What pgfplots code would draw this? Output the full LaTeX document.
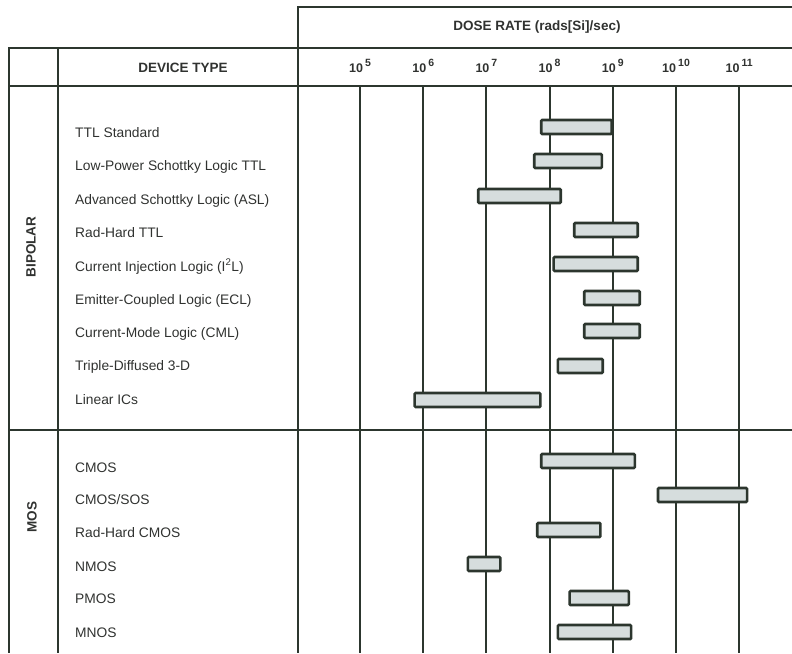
\documentclass[border=0pt]{standalone}
\usepackage{pgfplots}
\pgfplotsset{compat=1.18}
\usepackage{fontspec}
\setmainfont{Liberation Sans}
\definecolor{ink}{RGB}{44,54,46}
\definecolor{barfill}{RGB}{214,221,221}
\definecolor{txt}{RGB}{48,50,48}
\newcommand{\tp}[1]{10\,\raisebox{0.42em}{\fontsize{10.5}{11}\selectfont #1}}
\pgfplotsset{rbar/.style={draw=ink, fill=barfill, line width=2.6pt, rounded corners=1pt, mark=none}}
\begin{document}
\begin{tikzpicture}
\useasboundingbox (0,0) rectangle (792pt,-653pt);
\begin{scope}[x=1pt,y=-1pt]
\draw[ink,line width=2pt] (298,7) -- (792,7);
\draw[ink,line width=2pt] (298,6) -- (298,653);
\draw[ink,line width=2pt] (9,48) -- (792,48);
\draw[ink,line width=2pt] (9,86) -- (792,86);
\draw[ink,line width=2pt] (9,430) -- (792,430);
\draw[ink,line width=2pt] (9,47) -- (9,653);
\draw[ink,line width=2pt] (58,47) -- (58,653);
\node[txt,font=\bfseries\fontsize{13.5}{15}\selectfont] at (537,27) {DOSE RATE (rads[Si]/sec)};
\node[txt,font=\bfseries\fontsize{13.5}{15}\selectfont] at (183,68) {DEVICE TYPE};
\node[txt,rotate=90,font=\bfseries\fontsize{13.5}{15}\selectfont] at (31,247) {BIPOLAR};
\node[txt,rotate=90,font=\bfseries\fontsize{13.5}{15}\selectfont] at (32,517) {MOS};
\begin{scope}[every node/.style={txt,anchor=base west,inner sep=0pt,font=\fontsize{13.8}{15}\selectfont}]
\node at (75,137) {TTL Standard};
\node at (75,170) {Low-Power Schottky Logic TTL};
\node at (75,204) {Advanced Schottky Logic (ASL)};
\node at (75,237) {Rad-Hard TTL};
\node at (75,271) {Current Injection Logic (I\textsuperscript{2}L)};
\node at (75,304) {Emitter-Coupled Logic (ECL)};
\node at (75,337) {Current-Mode Logic (CML)};
\node at (75,370) {Triple-Diffused 3-D};
\node at (75,404) {Linear ICs};
\node at (75,472) {CMOS};
\node at (75,504) {CMOS/SOS};
\node at (75,537) {Rad-Hard CMOS};
\node at (75,571) {NMOS};
\node at (75,603) {PMOS};
\node at (75,637) {MNOS};
\end{scope}
\end{scope}
\begin{axis}[
  at={(298pt,-86pt)}, anchor=north west,
  width=494pt, height=567pt, scale only axis,
  xmode=log, xmin=10447, xmax=6.84e11,
  ymin=86, ymax=653, y dir=reverse,
  axis line style={draw=none},
  xtick={1e5,1e6,1e7,1e8,1e9,1e10,1e11},
  xticklabels={\tp{5},\tp{6},\tp{7},\tp{8},\tp{9},\tp{10},\tp{11}},
  xticklabel pos=upper,
  xticklabel style={anchor=base, yshift=14pt, inner sep=0pt, text=txt, font=\bfseries\fontsize{12.5}{14}\selectfont},
  xminorticks=false,
  ytick=\empty,
  major tick length=0pt,
  tick style={draw=none},
  xmajorgrids,
  major grid style={ink, line width=2pt},
]
% Bipolar
\addplot[rbar] coordinates {(7.38e7,120) (9.62e8,120) (9.62e8,134) (7.38e7,134)} -- cycle;
\addplot[rbar] coordinates {(5.71e7,154) (6.70e8,154) (6.70e8,168) (5.71e7,168)} -- cycle;
\addplot[rbar] coordinates {(7.43e6,189) (1.50e8,189) (1.50e8,203) (7.43e6,203)} -- cycle;
\addplot[rbar] coordinates {(2.45e8,223) (2.48e9,223) (2.48e9,237) (2.45e8,237)} -- cycle;
\addplot[rbar] coordinates {(1.16e8,257) (2.48e9,257) (2.48e9,271) (1.16e8,271)} -- cycle;
\addplot[rbar] coordinates {(3.53e8,291) (2.67e9,291) (2.67e9,305) (3.53e8,305)} -- cycle;
\addplot[rbar] coordinates {(3.53e8,324) (2.67e9,324) (2.67e9,338) (3.53e8,338)} -- cycle;
\addplot[rbar] coordinates {(1.35e8,359) (6.93e8,359) (6.93e8,373) (1.35e8,373)} -- cycle;
\addplot[rbar] coordinates {(7.31e5,393) (7.15e7,393) (7.15e7,407) (7.31e5,407)} -- cycle;
% MOS
\addplot[rbar] coordinates {(7.38e7,454) (2.23e9,454) (2.23e9,468) (7.38e7,468)} -- cycle;
\addplot[rbar] coordinates {(5.18e9,488) (1.33e11,488) (1.33e11,502) (5.18e9,502)} -- cycle;
\addplot[rbar] coordinates {(6.37e7,523) (6.37e8,523) (6.37e8,537) (6.37e7,537)} -- cycle;
\addplot[rbar] coordinates {(5.09e6,557) (1.66e7,557) (1.66e7,571) (5.09e6,571)} -- cycle;
\addplot[rbar] coordinates {(2.07e8,591) (1.79e9,591) (1.79e9,605) (2.07e8,605)} -- cycle;
\addplot[rbar] coordinates {(1.35e8,625) (1.95e9,625) (1.95e9,639) (1.35e8,639)} -- cycle;
\end{axis}
\end{tikzpicture}
\end{document}
